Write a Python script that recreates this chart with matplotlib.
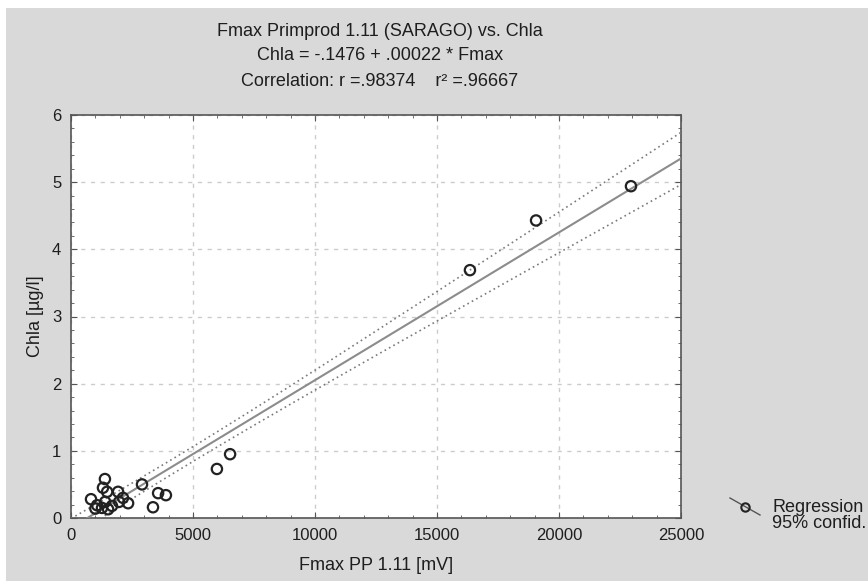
import numpy as np
import matplotlib.pyplot as plt
from matplotlib.lines import Line2D
from matplotlib.patches import Rectangle
from matplotlib.ticker import MultipleLocator

plt.rcParams['font.family'] = ['Liberation Sans', 'DejaVu Sans']
plt.rcParams['text.color'] = '#1e1e1e'
plt.rcParams['axes.labelcolor'] = '#1e1e1e'
plt.rcParams['xtick.labelcolor'] = '#1e1e1e'
plt.rcParams['ytick.labelcolor'] = '#1e1e1e'

# Fmax PP 1.11 readings [mV] and chlorophyll a [ug/l]
fmax = [820, 1000, 1070, 1270, 1310, 1390, 1400, 1480, 1520, 1680, 1930, 1970,
        2130, 2340, 2910, 3360, 3570, 3890, 5980, 6520, 16350, 19060, 22950]
chla = [0.28, 0.14, 0.19, 0.15, 0.45, 0.58, 0.24, 0.39, 0.13, 0.18, 0.39, 0.24,
        0.30, 0.22, 0.50, 0.16, 0.37, 0.34, 0.73, 0.95, 3.69, 4.43, 4.94]

intercept = -0.1476
slope = 0.00022
r = 0.98374
r2 = 0.96667

x = np.array(fmax, dtype=float)
y = np.array(chla, dtype=float)
n = len(x)

# 95% confidence band of the regression line
xs = np.linspace(0, 25000, 200)
fit = intercept + slope * xs
resid = y - (intercept + slope * x)
s = np.sqrt(np.sum(resid ** 2) / (n - 2))
sxx = np.sum((x - x.mean()) ** 2)
t = 2.08
half = t * s * np.sqrt(1.0 / n + (xs - x.mean()) ** 2 / sxx)

fig = plt.figure(figsize=(8.68, 5.81), dpi=100, facecolor='white')
# grey panel behind everything
fig.add_artist(Rectangle((6 / 868, 0), 1, 1 - 8 / 581, transform=fig.transFigure,
                         facecolor='#d9d9d9', edgecolor='none', zorder=-10))

ax = fig.add_axes([71 / 868, 1 - 518 / 581, 610 / 868, 403 / 581])
ax.set_facecolor('white')

ax.plot(xs, fit, color='#8c8c8c', lw=1.5, zorder=3)
ax.plot(xs, fit + half, color='#7a7a7a', lw=1.2, ls=(0, (1, 2)), zorder=3)
ax.plot(xs, fit - half, color='#7a7a7a', lw=1.2, ls=(0, (1, 2)), zorder=3)
ax.scatter(x, y, s=55, facecolors='none', edgecolors='#222222', linewidths=1.6, zorder=4)

ax.set_xlim(0, 25000)
ax.set_ylim(0, 6)
ax.xaxis.set_major_locator(MultipleLocator(5000))
ax.xaxis.set_minor_locator(MultipleLocator(1000))
ax.yaxis.set_major_locator(MultipleLocator(1))
ax.yaxis.set_minor_locator(MultipleLocator(0.2))
ax.tick_params(which='both', direction='in', top=True, right=True,
               labelsize=12, color='#555555', pad=7)
ax.tick_params(which='major', length=4)
ax.tick_params(which='minor', length=2.5)
ax.grid(True, which='major', color='#cccccc', ls=(0, (3, 4)), lw=1)
for sp in ax.spines.values():
    sp.set_color('#555555')
    sp.set_linewidth(1.2)

ax.set_xlabel('Fmax PP 1.11 [mV]', fontsize=13, labelpad=10)
ax.set_ylabel('Chla [µg/l]', fontsize=13, labelpad=6)

cx = 380 / 868
fig.text(cx, 1 - 31 / 581, 'Fmax Primprod 1.11 (SARAGO) vs. Chla', ha='center', va='center', fontsize=13)
fig.text(cx, 1 - 56 / 581, f'Chla = {intercept:.4f}'.replace('0.', '.') + f' + {slope:.5f}'.replace('0.', '.') + ' * Fmax',
         ha='center', va='center', fontsize=13)
fig.text(cx, 1 - 82 / 581, f'Correlation: r ={r:.5f}'.replace('0.', '.') + f'    r² ={r2:.5f}'.replace('0.', '.'),
         ha='center', va='center', fontsize=13)

# legend outside the plot
fig.add_artist(Line2D([730 / 868, 760 / 868], [1 - 498 / 581, 1 - 515 / 581],
                      transform=fig.transFigure, color='#555555', lw=1))
fig.add_artist(Line2D([745 / 868], [1 - 507 / 581], transform=fig.transFigure,
                      marker='o', ms=6, mfc='none', mec='#222222', mew=1.5))
fig.text(772 / 868, 1 - 507 / 581, 'Regression', va='center', fontsize=13)
fig.text(772 / 868, 1 - 524 / 581, '95% confid.', va='center', fontsize=13)

fig.savefig('out.png', dpi=100)
